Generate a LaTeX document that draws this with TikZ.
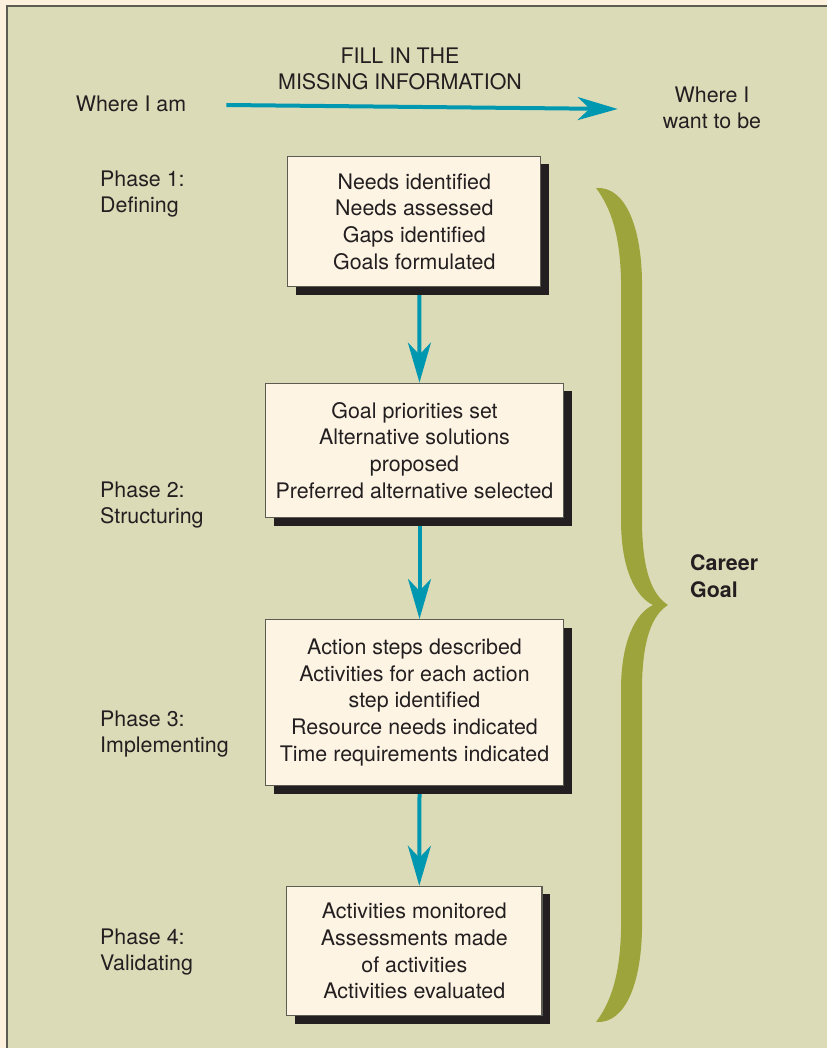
\documentclass[tikz,border=0pt]{standalone}
\usepackage{fontspec}
\setmainfont{TeX Gyre Heros}
\usetikzlibrary{arrows.meta, shadows}
\definecolor{creamc}{HTML}{FDF0DD}
\definecolor{panelc}{HTML}{DCDBB8}
\definecolor{boxc}{HTML}{FDF4E4}
\definecolor{inkc}{HTML}{231F20}
\definecolor{flowc}{HTML}{0097B0}
\definecolor{bracec}{HTML}{9CA43B}
\definecolor{edgec}{HTML}{5C5C52}

\begin{document}
\begin{tikzpicture}[x=1pt, y=-1pt,
	every node/.style={text=inkc, font=\fontsize{21.4}{26.7}\selectfont, inner sep=0pt},
	phasebox/.style={draw=edgec, line width=1.2pt, fill=boxc, align=center,
		drop shadow={opacity=1, fill=inkc, shadow xshift=8.5pt, shadow yshift=-8pt}},
	label/.style={align=left, anchor=west},
	flow/.style={draw=flowc, line width=4pt, -{Stealth[length=40pt, width=23pt, inset=12pt]}}]
				\useasboundingbox (0,0) rectangle (827,1048);
				\fill[creamc] (0,0) rectangle (827,1048);
				\fill[panelc] (7,6) rectangle (827,1048);
				\draw[edgec, line width=2pt] (7,1048) -- (7,6) -- (827,6);

				\node (here) at (131,104) {Where I am};
				\node[align=center] (fill) at (400,69) {FILL IN THE\\MISSING INFORMATION};
				\node[align=center] (there) at (712,108) {Where I\\want to be};
				\draw[flow] ([xshift=40pt, yshift=-1pt]here.east) -- ([xshift=-45pt, yshift=-1pt]there.west);

				\node[phasebox, minimum width=253pt, minimum height=130pt] (b1) at (414.3,221.5)
					{Needs identified\\Needs assessed\\Gaps identified\\Goals formulated};
				\node[phasebox, minimum width=297.6pt, minimum height=134.6pt] (b2) at (414.5,450.5)
					{Goal priorities set\\Alternative solutions\\proposed\\Preferred alternative selected};
				\node[phasebox, minimum width=297.6pt, minimum height=166pt] (b3) at (414.5,702.5)
					{Action steps described\\Activities for each action\\step identified\\Resource needs indicated\\Time requirements indicated};
				\node[phasebox, minimum width=255.3pt, minimum height=129.3pt] (b4) at (414.3,951)
					{Activities monitored\\Assessments made\\of activities\\Activities evaluated};

				\draw[flow] ([xshift=5pt, yshift=-8pt]b1.south) -- ([xshift=5pt]b2.north);
				\draw[flow] ([xshift=5pt, yshift=-8pt]b2.south) -- ([xshift=5pt]b3.north);
				\draw[flow] ([xshift=5pt, yshift=-8pt]b3.south) -- ([xshift=5pt]b4.north);

				\node[label] (p1) at (100,194) {Phase 1:\\Defining};
				\node[label] (p2) at (100,505) {Phase 2:\\Structuring};
				\node[label] (p3) at (100,734) {Phase 3:\\Implementing};
				\node[label] (p4) at (100,952) {Phase 4:\\Validating};

				\fill[bracec] (596,188)
					.. controls (626,186) and (641,228) .. (642,280)
					-- (642,520)
					.. controls (642,570) and (652,595) .. (668,605)
					.. controls (652,615) and (642,640) .. (642,690)
					-- (642,930)
					.. controls (641,982) and (626,1024) .. (596,1022)
					.. controls (611,1002) and (620,975) .. (621,930)
					-- (621,690)
					.. controls (621,640) and (636,613) .. (653,605)
					.. controls (636,597) and (621,570) .. (621,520)
					-- (621,280)
					.. controls (620,235) and (611,208) .. (596,188) -- cycle;
				\node[label, font=\fontsize{21.4}{26.7}\selectfont\bfseries] (goal) at (690,576) {Career\\Goal};
\end{tikzpicture}
\end{document}
